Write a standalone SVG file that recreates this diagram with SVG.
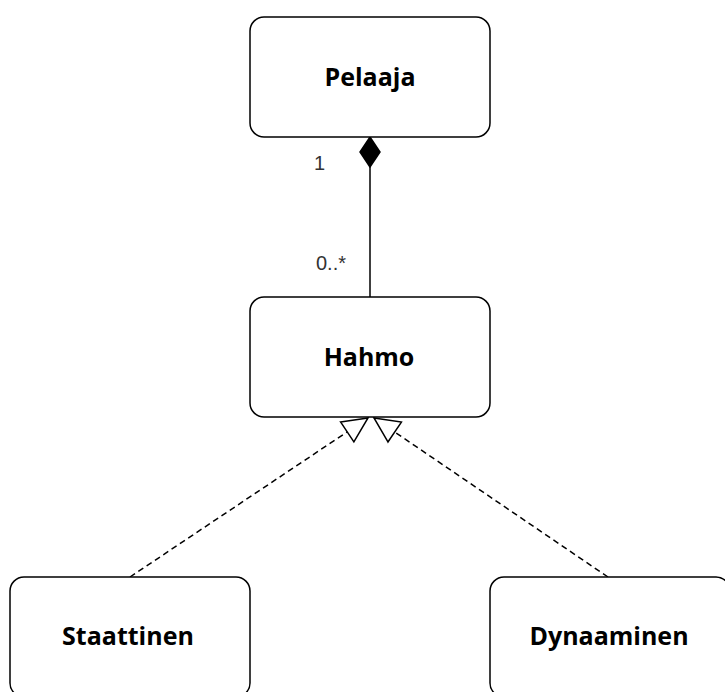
<svg xmlns="http://www.w3.org/2000/svg" width="725" height="692" viewBox="0 0 725 692">
  <style>
    .box { fill: #ffffff; stroke: #000000; stroke-width: 1.5; }
    .lbl { font-family: "Open Sans", "Liberation Sans", sans-serif; font-weight: 700; font-size: 25px; fill: #000000; text-anchor: middle; }
    .mult { font-family: "Liberation Sans", Arial, sans-serif; font-size: 20px; fill: #333333; }
    .solid { fill: none; stroke: #000000; stroke-width: 1.5; }
    .dash { fill: none; stroke: #000000; stroke-width: 1.5; stroke-dasharray: 6 4; }
  </style>
  <defs>
    <marker id="diamond" markerUnits="userSpaceOnUse" viewBox="-1 -11 32 22" refX="30" refY="0" markerWidth="32" markerHeight="22" orient="auto">
      <path d="M0,0 L15,-10 L30,0 L15,10 Z" fill="#000000" stroke="#000000" stroke-width="1.5"/>
    </marker>
    <marker id="hollow" markerUnits="userSpaceOnUse" viewBox="-1 -14 29 28" refX="26" refY="0" markerWidth="29" markerHeight="28" orient="auto">
      <path d="M1,-12 L26,0 L1,12 Z" fill="#ffffff" stroke="#000000" stroke-width="1.5"/>
    </marker>
  </defs>

  <g id="connectors">
    <path id="comp" class="solid" d="M370,297 L370,137" marker-end="url(#diamond)"/>
    <path id="real-left" class="dash" d="M130,577 L368,418" marker-end="url(#hollow)"/>
    <path id="real-right" class="dash" d="M608,577 L374,418" marker-end="url(#hollow)"/>
    <text class="mult" x="314" y="170">1</text>
    <text class="mult" x="316" y="270">0..*</text>
  </g>

  <g id="node-pelaaja">
    <rect class="box" x="250" y="17" width="240" height="120" rx="14" ry="14"/>
    <text class="lbl" x="370" y="86">Pelaaja</text>
  </g>

  <g id="node-hahmo">
    <rect class="box" x="250" y="297" width="240" height="120" rx="14" ry="14"/>
    <text class="lbl" x="369" y="366">Hahmo</text>
  </g>

  <g id="node-staattinen">
    <rect class="box" x="10" y="577" width="240" height="120" rx="14" ry="14"/>
    <text class="lbl" x="128" y="645">Staattinen</text>
  </g>

  <g id="node-dynaaminen">
    <rect class="box" x="490" y="577" width="240" height="120" rx="14" ry="14"/>
    <text class="lbl" x="609" y="645">Dynaaminen</text>
  </g>
</svg>
